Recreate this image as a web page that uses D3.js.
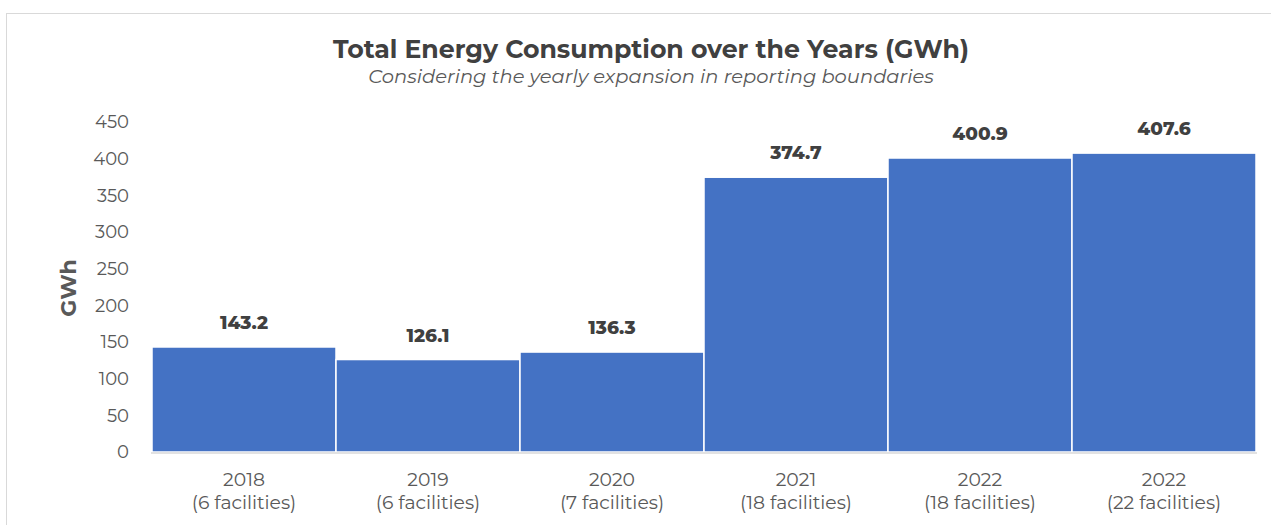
<!DOCTYPE html>
<html><head><meta charset="utf-8">
<script src="https://cdn.jsdelivr.net/npm/d3@7"></script>
<style>body{margin:0;background:#fff;} svg{display:block;}</style>
</head><body>
<svg id="c" width="1271" height="525"></svg>
<script>
const years = ["2018","2019","2020","2021","2022","2022"];
const facilities = ["(6 facilities)","(6 facilities)","(7 facilities)","(18 facilities)","(18 facilities)","(22 facilities)"];
const values = [143.2, 126.1, 136.3, 374.7, 400.9, 407.6];
const yTicks = [0,50,100,150,200,250,300,350,400,450];
const title = "Total Energy Consumption over the Years (GWh)";
const subtitle = "Considering the yearly expansion in reporting boundaries";
const yTitle = "GWh";

const svg = d3.select("#c");
const font = "Montserrat, 'Open Sans', 'DejaVu Sans', sans-serif";
svg.append("rect").attr("x",6.5).attr("y",13.5).attr("width",1300).attr("height",600)
  .attr("fill","none").attr("stroke","#d9d9d9");

const idx = d3.range(values.length);
const x = d3.scaleBand().domain(idx).range([152,1256]).paddingInner(0).paddingOuter(0);
const y = d3.scaleLinear().domain([0,450]).range([452,122]);

svg.append("text").attr("x",651).attr("y",58).attr("text-anchor","middle")
  .attr("font-family",font).attr("font-weight","bold").attr("font-size",25.2).attr("fill","#404040").text(title);
svg.append("text").attr("x",651).attr("y",83).attr("text-anchor","middle")
  .attr("font-family",font).attr("font-style","italic").attr("font-size",19.5).attr("fill","#595959").text(subtitle);

// y axis
const ya = svg.append("g").attr("transform","translate(129,0)")
  .call(d3.axisLeft(y).tickValues(yTicks).tickSize(0).tickPadding(0));
ya.select(".domain").remove();
ya.selectAll("text").attr("font-family",font).attr("font-size",18).attr("fill","#595959");

svg.append("text").attr("transform","translate(76,288) rotate(-90)").attr("text-anchor","middle")
  .attr("font-family",font).attr("font-weight","bold").attr("font-size",22).attr("fill","#595959").text(yTitle);

// bars
svg.append("g").selectAll("rect").data(idx).join("rect")
  .attr("x",i=>x(i)).attr("width",x.bandwidth())
  .attr("y",i=>y(values[i])).attr("height",i=>y(0)-y(values[i]))
  .attr("fill","#4472C4").attr("stroke","#ffffff").attr("stroke-width",1.5);

// baseline
svg.append("line").attr("x1",151).attr("x2",1257).attr("y1",453).attr("y2",453)
  .attr("stroke","#d9d9d9").attr("stroke-width",1.5);

// value labels
svg.append("g").selectAll("text").data(idx).join("text")
  .attr("x",i=>x(i)+x.bandwidth()/2).attr("y",i=>y(values[i])-18)
  .attr("text-anchor","middle").attr("font-family",font).attr("font-weight",800)
  .attr("font-size",18.5).attr("fill","#404040").text(i=>values[i].toFixed(1));

// x labels
const xl = svg.append("g").selectAll("text").data(idx).join("text")
  .attr("text-anchor","middle").attr("font-family",font).attr("font-size",18.8).attr("fill","#595959");
xl.append("tspan").attr("x",i=>x(i)+x.bandwidth()/2).attr("y",486).text(i=>years[i]);
xl.append("tspan").attr("x",i=>x(i)+x.bandwidth()/2).attr("y",509).text(i=>facilities[i]);
</script>
</body></html>
